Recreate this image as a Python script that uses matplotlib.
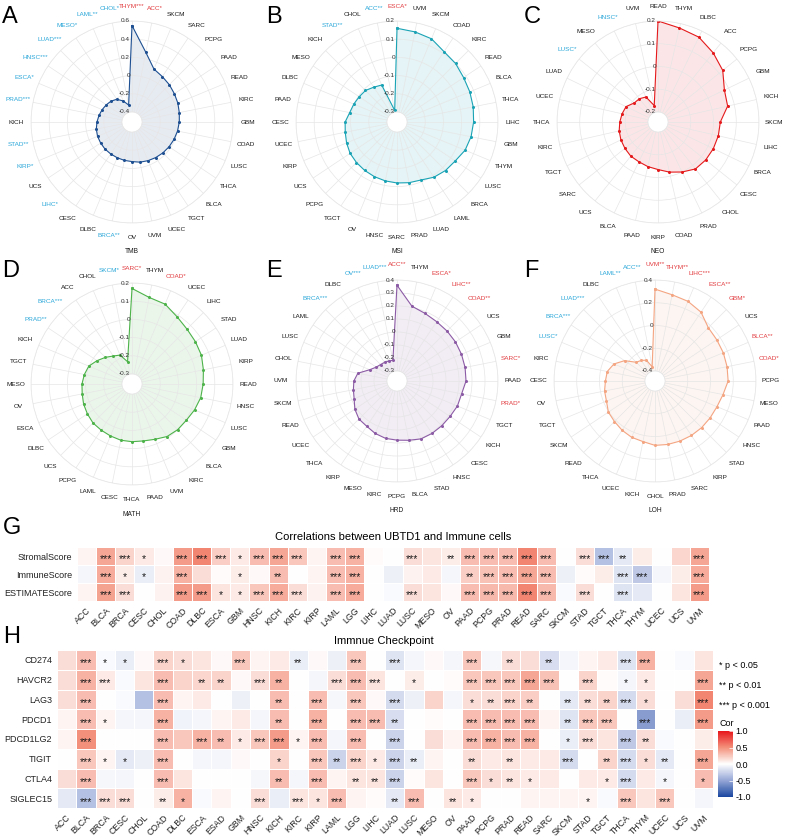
import numpy as np
import matplotlib.pyplot as plt
from matplotlib.colors import LinearSegmentedColormap, Normalize
from matplotlib.cm import ScalarMappable

plt.rcParams['font.family'] = ['Liberation Sans', 'DejaVu Sans']

# ---- radar data (clockwise from top) ----
tmb_labels = ['THYM', 'ACC', 'SKCM', 'SARC', 'PCPG', 'PAAD', 'READ', 'KIRC', 'GBM', 'COAD', 'LUSC', 'THCA',
              'BLCA', 'TGCT', 'UCEC', 'UVM', 'OV', 'BRCA', 'DLBC', 'CESC', 'LIHC', 'UCS', 'KIRP', 'STAD',
              'KICH', 'PRAD', 'ESCA', 'HNSC', 'LUAD', 'MESO', 'LAML', 'CHOL']
tmb_values = [0.55, 0.27, 0.12, 0.09, 0.07, 0.05, 0.035, 0.02, 0.01, 0.0, -0.01, -0.02,
              -0.03, -0.04, -0.05, -0.06, -0.075, -0.08, -0.085, -0.088, -0.09, -0.095, -0.10, -0.11,
              -0.125, -0.14, -0.155, -0.17, -0.185, -0.21, -0.26, -0.32]
tmb_stars = ['***', '*', '', '', '', '', '', '', '', '', '', '',
             '', '', '', '', '', '**', '', '', '*', '', '*', '**',
             '', '***', '*', '***', '***', '*', '**', '*']

msi_labels = ['ESCA', 'UVM', 'SKCM', 'COAD', 'KIRC', 'READ', 'BLCA', 'THCA', 'LIHC', 'GBM', 'THYM', 'LUSC',
              'BRCA', 'LAML', 'LUAD', 'PRAD', 'SARC', 'HNSC', 'OV', 'TGCT', 'PCPG', 'UCS', 'KIRP', 'UCEC',
              'CESC', 'PAAD', 'DLBC', 'MESO', 'KICH', 'STAD', 'CHOL', 'ACC']
msi_values = [0.16, 0.15, 0.14, 0.11, 0.10, 0.085, 0.078, 0.072, 0.066, 0.06, 0.05, 0.03,
              0.022, 0.01, -0.01, -0.015, -0.02, -0.025, -0.03, -0.035, -0.04, -0.045, -0.055, -0.065,
              -0.07, -0.09, -0.098, -0.105, -0.11, -0.125, -0.135, -0.29]
msi_stars = ['*', '', '', '', '', '', '', '', '', '', '', '',
             '', '', '', '', '', '', '', '', '', '', '', '',
             '', '', '', '', '', '**', '', '**']

neo_labels = ['READ', 'THYM', 'DLBC', 'ACC', 'PCPG', 'GBM', 'KICH', 'SKCM', 'LIHC', 'BRCA', 'CESC', 'CHOL',
              'PRAD', 'COAD', 'KIRP', 'PAAD', 'BLCA', 'UCS', 'SARC', 'TGCT', 'KIRC', 'THCA', 'UCEC', 'LUAD',
              'LUSC', 'MESO', 'HNSC', 'UVM']
neo_values = [0.20, 0.18, 0.17, 0.145, 0.12, 0.08, 0.07, 0.03, 0.028, 0.026, 0.024, 0.02,
              0.0, -0.018, -0.035, -0.043, -0.05, -0.052, -0.058, -0.063, -0.069, -0.076, -0.082, -0.088,
              -0.11, -0.113, -0.122, -0.17]
neo_stars = ['', '', '', '', '', '', '', '', '', '', '', '',
             '', '', '', '', '', '', '', '', '', '', '', '',
             '*', '', '*', '']

math_labels = ['SARC', 'THYM', 'COAD', 'UCEC', 'LIHC', 'STAD', 'LUAD', 'KIRP', 'READ', 'HNSC', 'LUSC', 'GBM',
               'BLCA', 'KIRC', 'UVM', 'PAAD', 'THCA', 'CESC', 'LAML', 'PCPG', 'UCS', 'DLBC', 'ESCA', 'OV',
               'MESO', 'TGCT', 'KICH', 'PRAD', 'BRCA', 'ACC', 'CHOL', 'SKCM']
math_values = [0.17, 0.13, 0.12, 0.09, 0.072, 0.064, 0.058, 0.045, 0.036, 0.03, 0.017, 0.004,
               0.0, -0.008, -0.026, -0.036, -0.038, -0.04, -0.046, -0.05, -0.052, -0.06, -0.067, -0.076,
               -0.08, -0.088, -0.098, -0.124, -0.148, -0.17, -0.183, -0.23]
math_stars = ['*', '', '*', '', '', '', '', '', '', '', '', '',
              '', '', '', '', '', '', '', '', '', '', '', '',
              '', '', '', '**', '***', '', '', '*']

hrd_labels = ['ACC', 'THYM', 'ESCA', 'LIHC', 'COAD', 'UCS', 'GBM', 'SARC', 'PAAD', 'PRAD', 'TGCT', 'KICH',
              'CESC', 'HNSC', 'STAD', 'BLCA', 'PCPG', 'KIRC', 'MESO', 'KIRP', 'THCA', 'UCEC', 'READ', 'SKCM',
              'UVM', 'CHOL', 'LUSC', 'LAML', 'BRCA', 'DLBC', 'OV', 'LUAD']
hrd_values = [0.36, 0.21, 0.186, 0.172, 0.167, 0.164, 0.16, 0.157, 0.154, 0.13, 0.126, 0.114,
              0.11, 0.108, 0.105, 0.088, 0.078, 0.073, 0.06, 0.042, 0.037, 0.013, -0.02, -0.035,
              -0.045, -0.07, -0.15, -0.185, -0.198, -0.205, -0.21, -0.215]
hrd_stars = ['**', '', '*', '**', '**', '', '', '*', '', '*', '', '',
             '', '', '', '', '', '', '', '', '', '', '', '',
             '', '', '', '', '***', '', '***', '***']

loh_labels = ['UVM', 'THYM', 'LIHC', 'ESCA', 'GBM', 'UCS', 'BLCA', 'COAD', 'PCPG', 'MESO', 'PAAD', 'HNSC',
              'STAD', 'KIRP', 'SARC', 'PRAD', 'CHOL', 'KICH', 'UCEC', 'THCA', 'READ', 'SKCM', 'TGCT', 'OV',
              'CESC', 'KIRC', 'LUSC', 'BRCA', 'LUAD', 'DLBC', 'LAML', 'ACC']
loh_values = [0.32, 0.285, 0.27, 0.24, 0.175, 0.165, 0.162, 0.158, 0.155, 0.122, 0.102, 0.095,
              0.092, 0.088, 0.084, 0.081, 0.078, 0.055, 0.048, 0.033, 0.016, 0.005, -0.026, -0.036,
              -0.052, -0.06, -0.097, -0.166, -0.255, -0.27, -0.29, -0.36]
loh_stars = ['**', '**', '***', '**', '*', '', '**', '*', '', '', '', '',
             '', '', '', '', '', '', '', '', '', '', '', '',
             '', '', '*', '***', '***', '', '**', '**']

# ---- heatmap G ----
g_rows = ['StromalScore', 'ImmuneScore', 'ESTIMATEScore']
g_cols = ['ACC', 'BLCA', 'BRCA', 'CESC', 'CHOL', 'COAD', 'DLBC', 'ESCA', 'GBM', 'HNSC', 'KICH', 'KIRC',
          'KIRP', 'LAML', 'LGG', 'LIHC', 'LUAD', 'LUSC', 'MESO', 'OV', 'PAAD', 'PCPG', 'PRAD', 'READ',
          'SARC', 'SKCM', 'STAD', 'TGCT', 'THCA', 'THYM', 'UCEC', 'UCS', 'UVM']
g_stromal = [0.05, 0.40, 0.20, 0.10, 0.03, 0.45, 0.55, 0.22, 0.10, 0.30, 0.40, 0.25,
             0.05, 0.30, 0.35, 0.02, 0.0, 0.15, 0.12, 0.08, 0.30, 0.30, 0.30, 0.55,
             0.30, 0.0, 0.15, -0.35, -0.12, 0.08, 0.0, 0.18, 0.40]
g_immune = [-0.05, 0.38, 0.08, -0.10, 0.06, 0.35, 0.15, 0.02, 0.08, 0.03, 0.30, 0.0,
            0.05, 0.30, 0.35, 0.0, -0.08, 0.06, 0.10, -0.05, 0.22, 0.28, 0.30, 0.40,
            0.30, -0.08, 0.02, 0.08, -0.15, -0.30, -0.05, 0.08, 0.38]
g_estimate = [0.05, 0.42, 0.15, 0.0, 0.06, 0.45, 0.45, 0.12, 0.10, 0.25, 0.38, 0.15,
              0.06, 0.30, 0.38, 0.0, -0.03, 0.15, 0.12, 0.03, 0.30, 0.32, 0.32, 0.55,
              0.32, -0.03, 0.15, 0.0, -0.15, -0.12, 0.0, 0.12, 0.45]
g_stromal_p = ['', '***', '***', '*', '', '***', '***', '***', '*', '***', '***', '***',
               '', '***', '***', '', '', '***', '', '**', '***', '***', '***', '***',
               '***', '', '***', '***', '**', '', '', '', '***']
g_immune_p = ['', '***', '*', '*', '', '***', '', '', '*', '', '**', '',
              '', '***', '***', '', '', '', '', '', '**', '***', '***', '***',
              '***', '', '', '', '***', '***', '', '', '***']
g_estimate_p = ['', '***', '***', '', '', '***', '***', '*', '*', '***', '***', '***',
                '', '***', '***', '', '', '***', '', '', '***', '***', '***', '***',
                '***', '', '***', '', '***', '', '', '', '***']

# ---- heatmap H ----
h_rows = ['CD274', 'HAVCR2', 'LAG3', 'PDCD1', 'PDCD1LG2', 'TIGIT', 'CTLA4', 'SIGLEC15']
h_cols = ['ACC', 'BLCA', 'BRCA', 'CESC', 'CHOL', 'COAD', 'DLBC', 'ESCA', 'ESAD', 'GBM', 'HNSC', 'KICH',
          'KIRC', 'KIRP', 'LAML', 'LGG', 'LIHC', 'LUAD', 'LUSC', 'MESO', 'OV', 'PAAD', 'PCPG', 'PRAD',
          'READ', 'SARC', 'SKCM', 'STAD', 'TGCT', 'THCA', 'THYM', 'UCEC', 'UCS', 'UVM']
h_cd274 = [0.15, 0.30, -0.03, -0.10, 0.03, 0.20, 0.15, 0.12, 0.03, 0.25, 0.05, 0.10,
           -0.10, 0.03, -0.08, 0.25, 0.0, -0.15, -0.05, 0.03, -0.05, 0.25, -0.04, 0.15,
           0.15, -0.18, -0.05, 0.05, 0.10, -0.15, 0.35, 0.0, -0.03, 0.12]
h_havcr2 = [0.15, 0.35, 0.10, -0.03, 0.12, 0.30, 0.20, 0.18, 0.20, 0.03, 0.15, 0.35,
            0.0, -0.05, 0.15, 0.30, 0.12, 0.0, 0.08, 0.0, 0.02, 0.25, 0.25, 0.25,
            0.40, 0.28, 0.0, 0.20, 0.02, -0.05, 0.10, 0.0, 0.0, 0.40]
h_lag3 = [0.15, 0.30, 0.0, -0.03, -0.35, 0.30, 0.05, 0.10, 0.0, -0.08, 0.0, 0.30,
          0.0, 0.30, -0.04, 0.25, 0.03, -0.20, -0.08, 0.20, -0.05, 0.15, 0.15, 0.20,
          0.22, 0.0, -0.12, 0.15, 0.20, -0.20, 0.15, 0.0, 0.15, 0.55]
h_pdcd1 = [0.05, 0.30, 0.05, -0.05, -0.05, 0.35, -0.07, -0.05, 0.05, 0.10, -0.05, 0.30,
           0.0, 0.35, 0.0, 0.30, 0.30, -0.18, 0.0, 0.02, 0.0, 0.30, 0.30, 0.30,
           0.30, 0.05, -0.15, 0.25, 0.25, 0.0, -0.55, 0.0, -0.10, 0.45]
h_pdcd1lg2 = [0.05, 0.50, 0.0, 0.0, 0.0, 0.30, 0.25, 0.35, 0.30, 0.10, 0.25, 0.45,
              0.05, 0.30, -0.05, 0.30, 0.0, -0.25, 0.0, 0.15, 0.05, 0.30, 0.35, 0.30,
              0.35, 0.0, -0.10, 0.15, 0.12, -0.30, 0.15, -0.03, 0.0, 0.08]
h_tigit = [0.0, 0.25, 0.05, -0.12, -0.08, 0.30, 0.0, -0.05, -0.05, 0.03, 0.0, 0.20,
           0.0, 0.25, -0.25, 0.20, 0.10, -0.25, -0.10, 0.05, 0.0, 0.15, 0.10, 0.12,
           0.10, 0.10, -0.20, 0.0, 0.20, -0.20, 0.15, -0.12, 0.0, 0.40]
h_ctla4 = [0.15, 0.30, -0.04, -0.05, 0.0, 0.30, 0.12, 0.0, 0.0, 0.0, -0.04, 0.30,
           -0.05, 0.30, 0.05, 0.12, 0.12, -0.25, 0.02, 0.12, 0.0, 0.25, 0.15, 0.12,
           0.10, 0.10, 0.0, 0.10, 0.10, -0.20, 0.10, -0.05, 0.0, 0.30]
h_siglec15 = [-0.12, -0.35, 0.15, 0.15, 0.0, 0.08, 0.35, -0.03, 0.05, 0.0, 0.15, -0.10,
              0.12, 0.12, 0.30, 0.05, 0.02, -0.12, 0.30, 0.0, 0.12, 0.10, 0.0, 0.0,
              0.05, 0.05, 0.05, 0.05, -0.03, 0.25, 0.12, 0.25, 0.0, -0.05]
h_cd274_p = ['', '***', '*', '*', '', '***', '*', '', '', '***', '', '',
             '**', '', '', '***', '', '***', '', '', '', '***', '', '**',
             '', '**', '', '', '', '***', '***', '', '', '']
h_havcr2_p = ['', '***', '***', '', '', '***', '', '**', '**', '', '***', '**',
              '', '', '***', '***', '***', '', '*', '', '', '***', '***', '***',
              '***', '***', '', '***', '', '*', '*', '', '', '***']
h_lag3_p = ['', '***', '', '', '', '***', '', '', '', '', '', '**',
            '', '***', '', '***', '', '***', '', '', '', '*', '**', '***',
            '**', '', '**', '**', '**', '***', '*', '', '', '***']
h_pdcd1_p = ['', '***', '*', '', '', '***', '', '', '', '', '', '**',
             '', '***', '', '***', '***', '**', '', '', '', '***', '***', '***',
             '***', '', '**', '***', '***', '', '***', '', '', '***']
h_pdcd1lg2_p = ['', '***', '', '', '', '***', '', '***', '**', '*', '***', '***',
                '*', '***', '', '***', '', '***', '', '', '', '***', '***', '***',
                '***', '', '*', '***', '', '***', '**', '', '', '']
h_tigit_p = ['', '***', '*', '*', '', '***', '', '', '', '', '', '*',
             '', '***', '**', '***', '*', '***', '**', '', '', '**', '', '**',
             '', '', '***', '', '**', '***', '*', '**', '', '***']
h_ctla4_p = ['', '***', '', '', '', '***', '', '', '', '', '', '**',
             '', '***', '', '**', '**', '***', '', '', '', '***', '*', '**',
             '*', '', '', '', '*', '***', '', '*', '', '*']
h_siglec15_p = ['', '***', '***', '***', '', '**', '*', '', '', '', '***', '',
                '***', '*', '***', '', '', '**', '***', '', '**', '*', '', '',
                '', '', '', '*', '', '***', '', '***', '', '']

W, H = 788, 839
fig = plt.figure(figsize=(7.88, 8.39), dpi=100)


def px_axes(x0, y0, w, h, **kw):
    return fig.add_axes([x0 / W, 1 - (y0 + h) / H, w / W, h / H], **kw)


def radar(cx, cy, labels, values, stars, ticks, line_c, letter, title):
    R = 101
    ax = px_axes(cx - R, cy - R, 2 * R, 2 * R, projection='polar')
    n = len(labels)
    theta = np.arange(n) * 2 * np.pi / n
    ax.set_theta_zero_location('N')
    ax.set_theta_direction(-1)
    lo, hi = ticks[0], ticks[-1]
    ax.set_ylim(lo, hi)
    ax.set_rorigin(lo - (hi - lo) * 0.11)
    th = np.append(theta, theta[0])
    vv = np.append(values, values[0])
    ax.fill(th, vv, color=line_c, alpha=0.11, lw=0)
    ax.plot(th, vv, color=line_c, lw=0.8, marker='o', ms=2.2, mew=0)
    ax.set_xticks(theta)
    ax.set_xticklabels([])
    ax.set_yticks(ticks)
    ax.set_yticklabels([])
    ax.grid(color='#E6E6E6', lw=0.5)
    for s in ax.spines.values():
        s.set_color('#E6E6E6')
        s.set_linewidth(0.5)
    for t in ticks:
        ax.annotate(f'{t:g}', xy=(0, t), xytext=(-1.5, 0), textcoords='offset points',
                    ha='right', va='center', fontsize=4.6, color='#333333', annotation_clip=False)
    rl = 116 / (2 * R)
    for i in range(n):
        if stars[i]:
            c = '#E23B3F' if values[i] > 0 else '#2AA7D9'
        else:
            c = '#1A1A1A'
        ax.text(0.5 + rl * np.sin(theta[i]), 0.5 + rl * np.cos(theta[i]), labels[i] + stars[i],
                transform=ax.transAxes, ha='center', va='center', fontsize=4.6, color=c)
    ax.text(0.5, 0.5 - 130 / (2 * R), title, transform=ax.transAxes, ha='center', va='center',
            fontsize=4.8, color='#1A1A1A')
    return ax


radar(132, 122, tmb_labels, tmb_values, tmb_stars, [-0.4, -0.2, 0, 0.2, 0.4, 0.6], '#1D4F91', 'A', 'TMB')
radar(397, 122, msi_labels, msi_values, msi_stars, [-0.3, -0.2, -0.1, 0, 0.1, 0.2], '#1AA3B5', 'B', 'MSI')
radar(658, 122, neo_labels, neo_values, neo_stars, [-0.2, -0.1, 0, 0.1, 0.2], '#E41A1C', 'C', 'NEO')
radar(132, 384, math_labels, math_values, math_stars, [-0.3, -0.2, -0.1, 0, 0.1, 0.2], '#4DB34A', 'D', 'MATH')
radar(397, 381, hrd_labels, hrd_values, hrd_stars, [-0.3, -0.2, -0.1, 0, 0.1, 0.2, 0.3, 0.4], '#8C5BA5', 'E', 'HRD')
radar(655, 381, loh_labels, loh_values, loh_stars, [-0.4, -0.2, 0, 0.2, 0.4], '#F4A582', 'F', 'LOH')

for letter, x, y in [('A', 10, 17), ('B', 274, 17), ('C', 532, 17),
                     ('D', 11, 271), ('E', 274, 271), ('F', 531, 271),
                     ('G', 12, 528), ('H', 12, 637)]:
    fig.text(x / W, 1 - y / H, letter, fontsize=17, ha='center', va='center')

cmap = LinearSegmentedColormap.from_list('cor', [(0, '#1A47A0'), (0.25, '#95A6D6'), (0.5, '#FFFFFF'),
                                                 (0.75, '#F3917C'), (1, '#E8161B')])


def heat(x0, y0, w, h, rows, cols, vals, stars):
    ax = px_axes(x0, y0, w, h)
    data = np.array(vals)
    ax.pcolormesh(np.arange(len(cols) + 1), np.arange(len(rows) + 1), data, cmap=cmap,
                  vmin=-1, vmax=1, edgecolors='white', linewidth=0.6)
    ax.set_xlim(0, len(cols))
    ax.set_ylim(len(rows), 0)
    for i in range(len(rows)):
        for j in range(len(cols)):
            if stars[i][j]:
                ax.text(j + 0.5, i + 0.68, stars[i][j], ha='center', va='center', fontsize=7.5, color='#1A1A1A')
    ax.set_xticks(np.arange(len(cols)) + 0.5)
    ax.set_xticklabels(cols, rotation=45, ha='right', va='top', rotation_mode='anchor',
                       fontsize=6.3, color='#222222')
    ax.set_yticks(np.arange(len(rows)) + 0.5)
    ax.set_yticklabels(rows, fontsize=6.5, color='#222222')
    ax.tick_params(length=0, pad=3.5)
    for s in ax.spines.values():
        s.set_visible(False)
    return ax


heat(77, 547, 632, 54, g_rows, g_cols, [g_stromal, g_immune, g_estimate],
     [g_stromal_p, g_immune_p, g_estimate_p])
fig.text(393 / W, 1 - 537 / H, 'Correlations between UBTD1 and Immune cells', fontsize=8,
         ha='center', va='center')

heat(57, 650, 656, 158, h_rows, h_cols,
     [h_cd274, h_havcr2, h_lag3, h_pdcd1, h_pdcd1lg2, h_tigit, h_ctla4, h_siglec15],
     [h_cd274_p, h_havcr2_p, h_lag3_p, h_pdcd1_p, h_pdcd1lg2_p, h_tigit_p, h_ctla4_p, h_siglec15_p])
fig.text(384 / W, 1 - 641 / H, 'Immnue Checkpoint', fontsize=8, ha='center', va='center')

for txt, y in [('* p < 0.05', 665), ('** p < 0.01', 685), ('*** p < 0.001', 705)]:
    fig.text(719 / W, 1 - y / H, txt, fontsize=6.5, ha='left', va='center')
fig.text(719 / W, 1 - 724 / H, 'Cor', fontsize=6.5, ha='left', va='center')

cax = px_axes(718, 731, 15, 66)
sm = ScalarMappable(norm=Normalize(-1, 1), cmap=cmap)
cb = fig.colorbar(sm, cax=cax, ticks=[-1, -0.5, 0, 0.5, 1])
cb.ax.set_yticklabels(['-1.0', '-0.5', '0.0', '0.5', '1.0'], fontsize=6.5)
cb.outline.set_visible(False)
cb.ax.tick_params(length=3, color='white', width=0.5, direction='in', pad=2)

fig.savefig('out.png', dpi=100)
